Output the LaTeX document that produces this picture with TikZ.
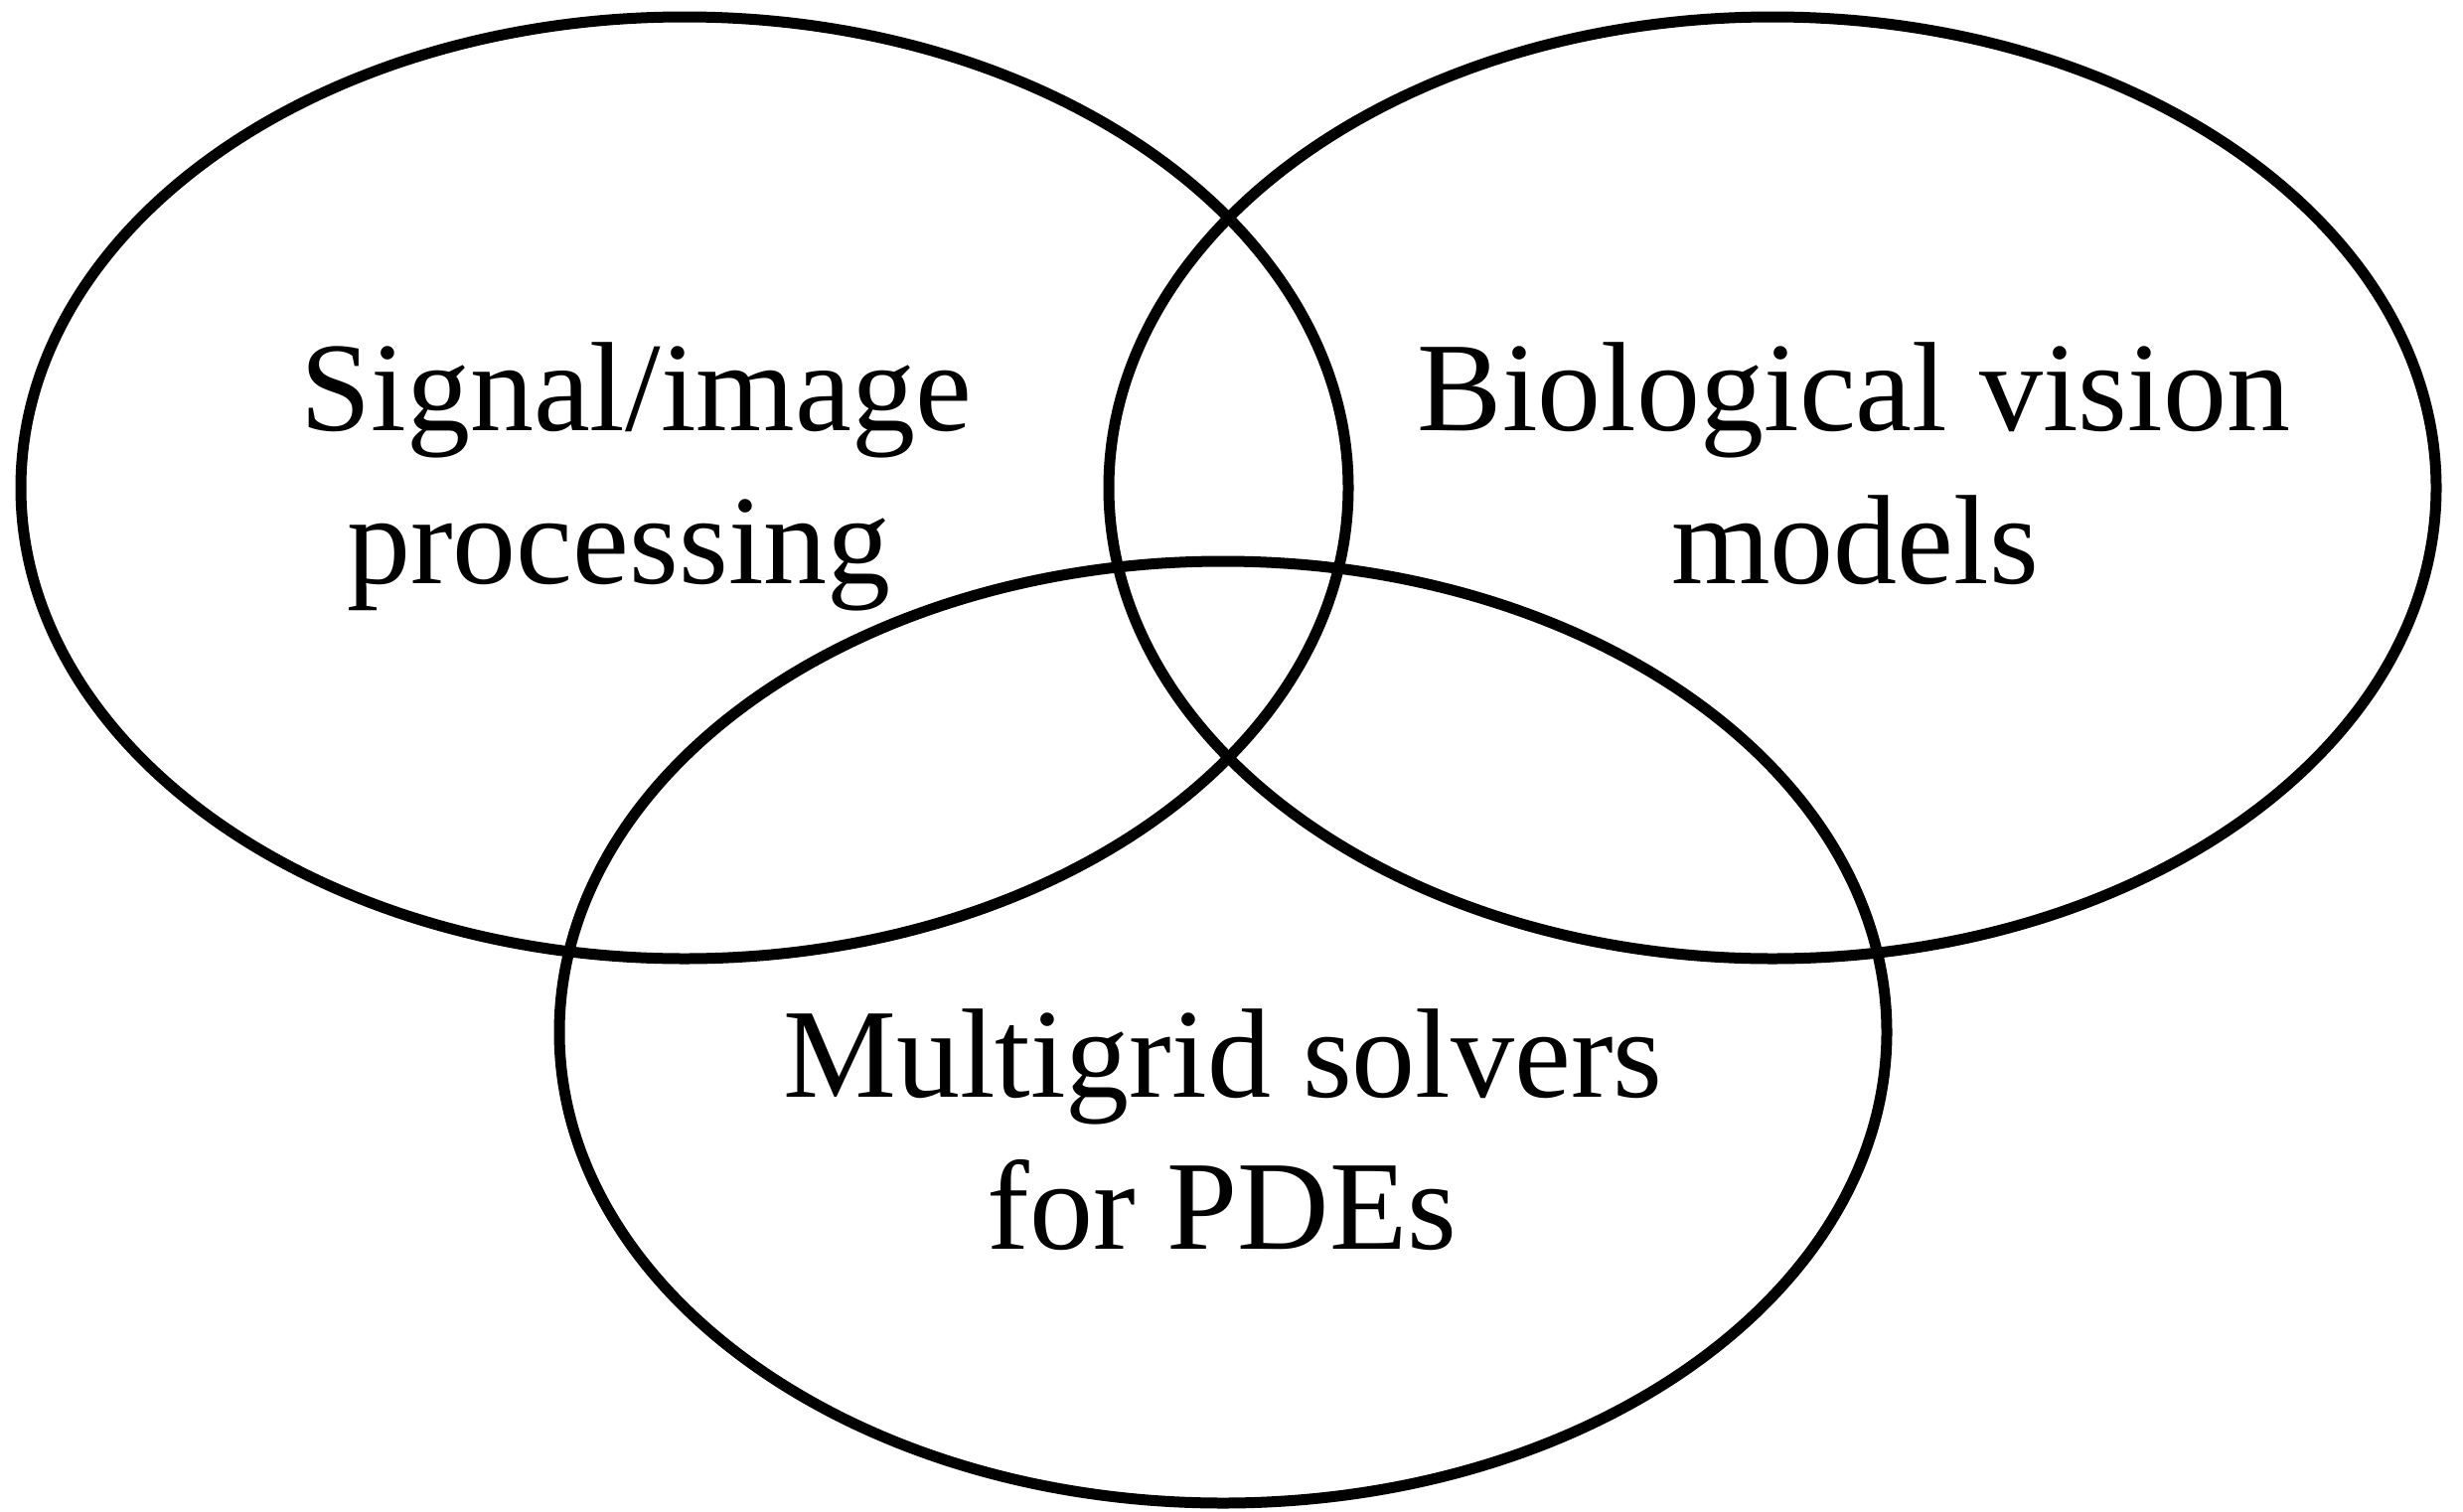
\documentclass[tikz,border=0pt]{standalone}
\usepackage{fontspec}
\setmainfont{Liberation Serif}
\usetikzlibrary{shapes.geometric}
\begin{document}
\begin{tikzpicture}[x=1pt,y=-1pt,
  field/.style={ellipse, draw=black, line width=11pt, inner sep=0pt, outer sep=0pt,
    minimum width=1336pt, minimum height=948pt},
  label/.style={align=center, inner sep=0pt, anchor=base,
    font=\fontsize{128}{154}\selectfont}]
  \useasboundingbox (0,0) rectangle (2479,1521);
  % the three overlapping fields
  \node[field] (sig) at (689,491) {};
  \node[field] (bio) at (1784,491) {};
  \node[field] (mg)  at (1231,1039) {};
  % field names, one node per printed line
  \node[label] (sig1) at (640,433) {Signal/image};
  \node[label] (sig2) at (623,587) {processing};
  \node[label] (bio1) at (1866,433) {Biological vision};
  \node[label] (bio2) at (1867,587) {models};
  \node[label] (mg1)  at (1231,1104) {Multigrid solvers};
  \node[label] (mg2)  at (1230,1257) {for PDEs};
\end{tikzpicture}
\end{document}
